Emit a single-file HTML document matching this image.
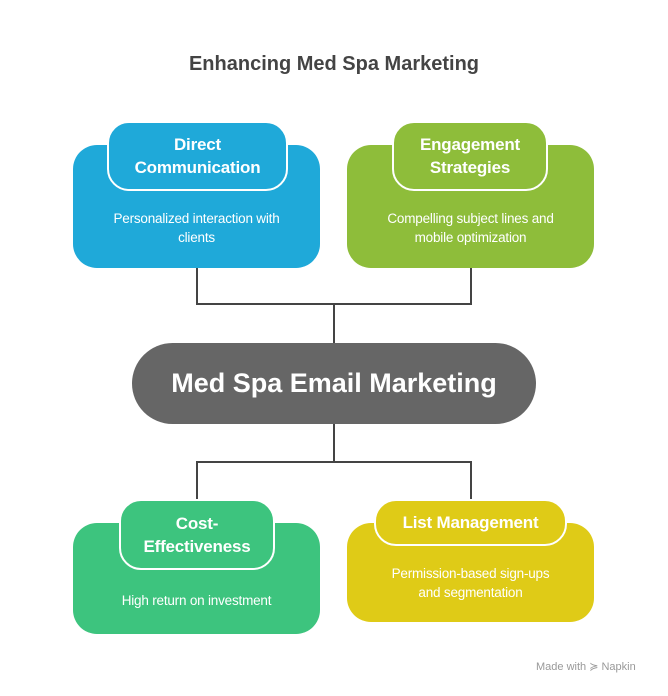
<!DOCTYPE html><html><head><style>
body{margin:0;width:668px;height:696px;background:#fff;font-family:"Liberation Sans",sans-serif;position:relative;overflow:hidden}
.a{position:absolute;box-sizing:border-box}
.o{border-radius:24px}
.h{border:2px solid #fff;border-radius:22px;color:#fff;font-weight:bold;font-size:17px;display:flex;align-items:center;justify-content:center;text-align:center;line-height:23px;letter-spacing:-0.2px}
.d{color:#fff;font-size:13.5px;text-align:center;line-height:19px;letter-spacing:-0.2px}
</style></head><body>
<div class="a" style="left:0;top:53px;width:668px;text-align:center;font-size:20px;font-weight:bold;color:#444">Enhancing Med Spa Marketing</div>
<svg class="a" style="left:0;top:0" width="668" height="696"><g stroke="#444" stroke-width="2" fill="none"><path d="M197 268V304H471V268M334 304V343M334 424V462M197 499V462H471V499"/></g></svg>
<div class="a o" style="left:73px;top:145px;width:247px;height:123px;background:#1FA9D9"></div>
<div class="a h" style="left:107px;top:121px;width:181px;height:70px;background:#1FA9D9">Direct<br>Communication</div>
<div class="a d" style="left:73px;top:209px;width:247px">Personalized interaction with<br>clients</div>
<div class="a o" style="left:347px;top:145px;width:247px;height:123px;background:#8EBD3A"></div>
<div class="a h" style="left:392px;top:121px;width:156px;height:70px;background:#8EBD3A">Engagement<br>Strategies</div>
<div class="a d" style="left:347px;top:209px;width:247px">Compelling subject lines and<br>mobile optimization</div>
<div class="a" style="left:132px;top:343px;width:404px;height:81px;border-radius:41px;background:#666;color:#fff;font-weight:bold;font-size:27px;display:flex;align-items:center;justify-content:center">Med Spa Email Marketing</div>
<div class="a o" style="left:73px;top:523px;width:247px;height:111px;background:#3DC47E"></div>
<div class="a h" style="left:119px;top:499px;width:156px;height:71px;background:#3DC47E">Cost-<br>Effectiveness</div>
<div class="a d" style="left:73px;top:591px;width:247px">High return on investment</div>
<div class="a o" style="left:347px;top:523px;width:247px;height:99px;background:#DFCB17"></div>
<div class="a h" style="left:374px;top:499px;width:193px;height:47px;background:#DFCB17">List Management</div>
<div class="a d" style="left:347px;top:564px;width:247px">Permission-based sign-ups<br>and segmentation</div>
<div class="a" style="left:536px;top:660px;font-size:11px;color:#999">Made with ≽ Napkin</div>
</body></html>
